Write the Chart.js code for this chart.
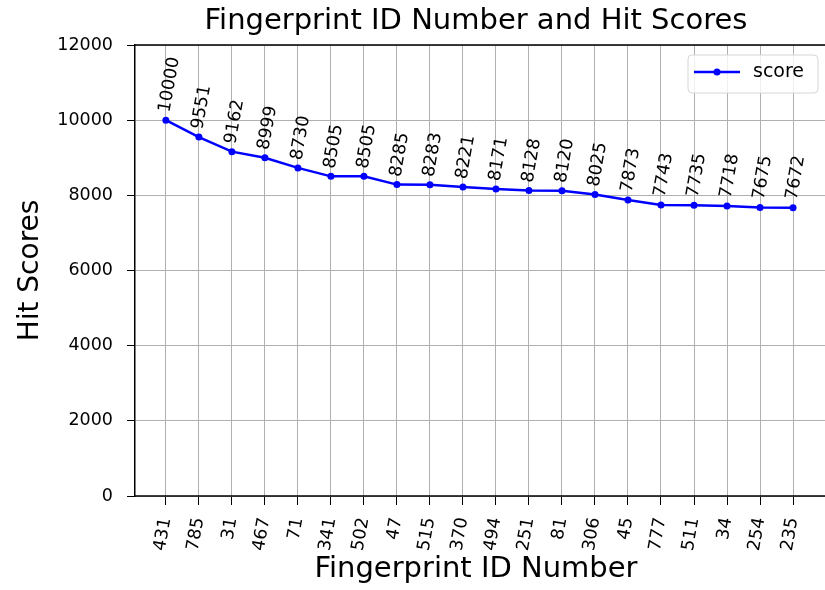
<!DOCTYPE html>
<html><head><meta charset="utf-8">
<script src="https://cdn.jsdelivr.net/npm/chart.js@4/dist/chart.umd.min.js"></script>
<style>html,body{margin:0;padding:0;background:#fff}#wrap{width:825px;height:590px}</style>
</head><body><div id="wrap"><canvas id="c" width="825" height="590"></canvas></div>
<script>
const ids = ['431','785','31','467','71','341','502','47','515','370','494','251','81','306','45','777','511','34','254','235'];
const scores = [10000,9551,9162,8999,8730,8505,8505,8285,8283,8221,8171,8128,8120,8025,7873,7743,7735,7718,7675,7672];
const yTicks = [0,2000,4000,6000,8000,10000,12000];
const seriesName = 'score';
const chartTitle = 'Fingerprint ID Number and Hit Scores';
const xTitle = 'Fingerprint ID Number';
const yTitle = 'Hit Scores';

const FAM = '"DejaVu Sans", sans-serif';

const gridExtend = {
  id: 'gridExtend',
  beforeDatasetsDraw(chart) {
    const ctx = chart.ctx;
    const a = chart.chartArea;
    const ys = chart.scales.y;
    ctx.save();
    ctx.strokeStyle = '#b0b0b0';
    ctx.lineWidth = 1;
    ctx.beginPath();
    yTicks.forEach(v => {
      const py = Math.round(ys.getPixelForValue(v) - 0.5) + 0.5;
      ctx.moveTo(a.right, py);
      ctx.lineTo(chart.width, py);
    });
    ctx.stroke();
    ctx.restore();
  }
};

const pointLabels = {
  id: 'pointLabels',
  afterDatasetsDraw(chart) {
    const ctx = chart.ctx;
    const meta = chart.getDatasetMeta(0);
    ctx.save();
    ctx.font = '17.5px ' + FAM;
    ctx.fillStyle = '#000';
    ctx.textAlign = 'left';
    ctx.textBaseline = 'middle';
    meta.data.forEach((pt, i) => {
      ctx.save();
      ctx.translate(pt.x - 1, pt.y - 8);
      ctx.rotate(-80 * Math.PI / 180);
      ctx.fillText(String(scores[i]), 0, 0);
      ctx.restore();
    });
    ctx.restore();
  }
};

const frameAndLegend = {
  id: 'frameAndLegend',
  afterDraw(chart) {
    const ctx = chart.ctx;
    const a = chart.chartArea;
    const W = chart.width;
    ctx.save();
    ctx.strokeStyle = '#000';
    ctx.lineWidth = 1.5;
    ctx.beginPath();
    ctx.moveTo(a.left, a.top);
    ctx.lineTo(W, a.top);
    ctx.moveTo(a.left, a.bottom);
    ctx.lineTo(W, a.bottom);
    ctx.stroke();
    // legend
    const x0 = 688, y0 = 55, w = 130, h = 38, r = 4;
    ctx.beginPath();
    ctx.moveTo(x0 + r, y0);
    ctx.lineTo(x0 + w - r, y0);
    ctx.quadraticCurveTo(x0 + w, y0, x0 + w, y0 + r);
    ctx.lineTo(x0 + w, y0 + h - r);
    ctx.quadraticCurveTo(x0 + w, y0 + h, x0 + w - r, y0 + h);
    ctx.lineTo(x0 + r, y0 + h);
    ctx.quadraticCurveTo(x0, y0 + h, x0, y0 + h - r);
    ctx.lineTo(x0, y0 + r);
    ctx.quadraticCurveTo(x0, y0, x0 + r, y0);
    ctx.closePath();
    ctx.fillStyle = 'rgba(255,255,255,0.8)';
    ctx.fill();
    ctx.strokeStyle = '#d6d6d6';
    ctx.lineWidth = 1;
    ctx.stroke();
    const ly = y0 + 17;
    ctx.strokeStyle = '#0000ff';
    ctx.lineWidth = 2.5;
    ctx.beginPath();
    ctx.moveTo(694, ly);
    ctx.lineTo(740, ly);
    ctx.stroke();
    ctx.fillStyle = '#0000ff';
    ctx.beginPath();
    ctx.arc(717, ly, 3.5, 0, Math.PI * 2);
    ctx.fill();
    ctx.fillStyle = '#000';
    ctx.font = '19px ' + FAM;
    ctx.textAlign = 'left';
    ctx.textBaseline = 'middle';
    ctx.fillText(seriesName, 753, ly);
    ctx.restore();
  }
};

const tickFont = { family: FAM, size: 17.5 };

new Chart(document.getElementById('c'), {
  type: 'line',
  data: {
    datasets: [{
      label: seriesName,
      data: ids.map((id, i) => ({ x: i, y: scores[i] })),
      borderColor: '#0000ff',
      backgroundColor: '#0000ff',
      borderWidth: 2.5,
      pointRadius: 3.5,
      pointBorderWidth: 0,
      pointBackgroundColor: '#0000ff',
      tension: 0,
      clip: false
    }]
  },
  options: {
    responsive: false,
    animation: false,
    devicePixelRatio: 1,
    layout: { padding: { left: 0, right: 0, top: 0, bottom: 0 } },
    plugins: {
      legend: { display: false },
      tooltip: { enabled: false },
      title: {
        display: true,
        fullSize: false,
        text: chartTitle,
        color: '#000',
        font: { family: FAM, size: 29, weight: 'normal' },
        padding: { top: 4, bottom: 6.2 }
      }
    },
    scales: {
      x: {
        type: 'linear',
        min: -0.935,
        max: 19.724,
        afterBuildTicks: s => { s.ticks = ids.map((_, i) => ({ value: i })); },
        afterFit: s => { s.height = 94; },
        ticks: {
          autoSkip: false,
          maxRotation: 80,
          minRotation: 80,
          color: '#000',
          font: tickFont,
          padding: 11,
          callback: v => ids[v]
        },
        grid: { color: '#b0b0b0', lineWidth: 1, tickColor: '#000', tickLength: 9, drawTicks: true },
        border: { display: false },
        title: {
          display: true, text: xTitle, color: '#000',
          font: { family: FAM, size: 29 },
          padding: { top: 0, bottom: 3 }
        }
      },
      y: {
        min: 0,
        max: 12000,
        afterBuildTicks: s => { s.ticks = yTicks.map(v => ({ value: v })); },
        afterFit: s => { s.width = 135; },
        ticks: { color: '#000', font: tickFont, padding: 14, callback: v => String(v) },
        grid: { color: '#b0b0b0', lineWidth: 1, tickColor: '#000', tickLength: 8, drawTicks: true },
        border: { color: '#000', width: 1.5 },
        title: {
          display: true, text: yTitle, color: '#000',
          font: { family: FAM, size: 28 },
          padding: { top: 14, bottom: 0 }
        }
      }
    }
  },
  plugins: [gridExtend, pointLabels, frameAndLegend]
});
</script>
</body></html>
